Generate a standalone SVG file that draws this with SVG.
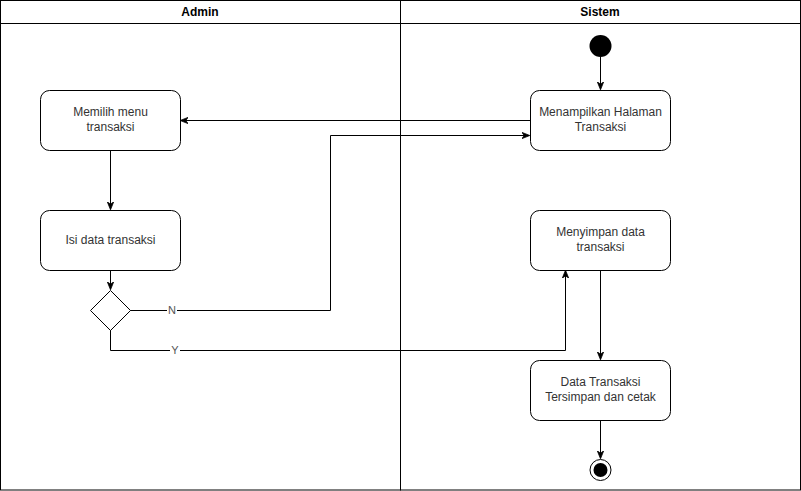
<svg xmlns="http://www.w3.org/2000/svg" width="801" height="491" viewBox="0 0 801 491">
<defs>
<style>
.lane{fill:#fff;stroke:#000;stroke-width:1}
.hdr{font-family:"Liberation Sans",Arial,sans-serif;font-size:12px;font-weight:bold;fill:#000;text-anchor:middle}
.node rect{fill:#fff;stroke:#000;stroke-width:1}
.t{font-family:"Liberation Sans",Arial,sans-serif;font-size:12px;fill:#333;text-anchor:middle}
.c{fill:none;stroke:#000;stroke-width:1}
.lbl{font-family:"Liberation Sans",Arial,sans-serif;font-size:11px;fill:#555;text-anchor:middle}
</style>
<marker id="arr" viewBox="0 0 10 10" refX="9" refY="5" markerWidth="8" markerHeight="8" orient="auto" markerUnits="userSpaceOnUse">
<path d="M0,1 L10,5 L0,9 L3,5 Z" fill="#000" stroke="#000"/>
</marker>
</defs>
<g id="pool">
<rect class="lane" x="0.5" y="0.5" width="400" height="489.5"/>
<rect class="lane" x="400.5" y="0.5" width="400" height="489.5"/>
<line x1="0.5" y1="23.5" x2="800.5" y2="23.5" stroke="#000"/>
<text class="hdr" x="200" y="16">Admin</text>
<text class="hdr" x="600" y="16">Sistem</text>
</g>
<g id="connectors">
<path class="c" d="M600.5,57 L600.5,89" marker-end="url(#arr)"/>
<path class="c" d="M530,120.5 L181,120.5" marker-end="url(#arr)"/>
<path class="c" d="M110.5,150 L110.5,209" marker-end="url(#arr)"/>
<path class="c" d="M110.5,270 L110.5,289" marker-end="url(#arr)"/>
<path class="c" d="M130,310.5 L330.5,310.5 L330.5,135.5 L529,135.5" marker-end="url(#arr)"/>
<path class="c" d="M110.5,330 L110.5,350.5 L565.5,350.5 L565.5,271" marker-end="url(#arr)"/>
<path class="c" d="M600.5,270 L600.5,359" marker-end="url(#arr)"/>
<path class="c" d="M600.5,420 L600.5,458" marker-end="url(#arr)"/>
<rect x="167" y="304" width="10" height="13" fill="#fff"/>
<text class="lbl" x="172" y="314">N</text>
<rect x="170" y="344" width="10" height="13" fill="#fff"/>
<text class="lbl" x="175" y="354">Y</text>
</g>
<g id="start"><circle cx="600.5" cy="46" r="11" fill="#000"/></g>
<g id="n_menampilkan" class="node">
<rect x="530.5" y="90.5" width="140" height="60" rx="9"/>
<text class="t" x="600.5" y="116">Menampilkan Halaman</text>
<text class="t" x="600.5" y="131">Transaksi</text>
</g>
<g id="n_memilih" class="node">
<rect x="40.5" y="90.5" width="140" height="60" rx="9"/>
<text class="t" x="110.5" y="116">Memilih menu</text>
<text class="t" x="110.5" y="131">transaksi</text>
</g>
<g id="n_isi" class="node">
<rect x="40.5" y="210.5" width="140" height="60" rx="9"/>
<text class="t" x="110.5" y="244">Isi data transaksi</text>
</g>
<g id="n_decision">
<path d="M110.5,290.5 L130.5,310.5 L110.5,330.5 L90.5,310.5 Z" fill="#fff" stroke="#000"/>
</g>
<g id="n_menyimpan" class="node">
<rect x="530.5" y="210.5" width="140" height="60" rx="9"/>
<text class="t" x="600.5" y="236">Menyimpan data</text>
<text class="t" x="600.5" y="251">transaksi</text>
</g>
<g id="n_data" class="node">
<rect x="530.5" y="360.5" width="140" height="60" rx="9"/>
<text class="t" x="600.5" y="386">Data Transaksi</text>
<text class="t" x="600.5" y="401">Tersimpan dan cetak</text>
</g>
<g id="end">
<circle cx="600.5" cy="470" r="10.5" fill="#fff" stroke="#000"/>
<circle cx="600.5" cy="470" r="7" fill="#000"/>
</g>
</svg>
